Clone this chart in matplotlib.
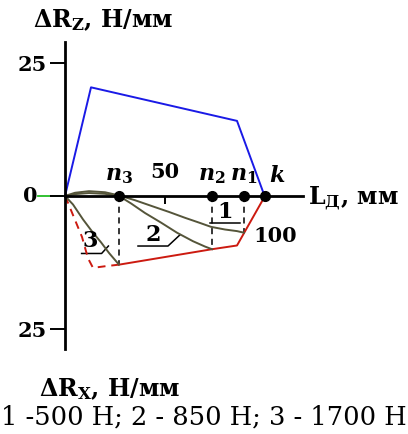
import matplotlib
matplotlib.use("Agg")
import matplotlib.pyplot as plt

plt.rcParams["font.family"] = ["DejaVu Serif"]
plt.rcParams["mathtext.fontset"] = "custom"
plt.rcParams["mathtext.rm"] = "DejaVu Serif:bold"
plt.rcParams["mathtext.bf"] = "DejaVu Serif:bold"
plt.rcParams["mathtext.it"] = "DejaVu Serif:bold:italic"

# ΔRz (upper half, blue)
L_rz = [0, 13, 86, 99]
rz = [0, 20.4, 14.1, 0.8]

# ΔRx envelope (lower half, red): solid part and dashed part
L_rx = [100, 86, 73.5, 27]
rx = [0, -9.3, -10.0, -12.9]
L_rx_dash = [27, 20, 14, 11.5, 8.5, 1.5, 0]
rx_dash = [-12.9, -13.2, -13.5, -11.7, -7.7, -1.3, 0]

# curves 1, 2, 3
L1 = [0, 5, 12, 20, 27, 35, 45, 52, 60, 67, 73, 80, 86, 89.5]
c1 = [0, 0.6, 0.9, 0.7, 0.1, -0.8, -2.1, -3.0, -4.1, -5.0, -5.8, -6.3, -6.6, -6.9]
L2 = [0, 5, 12, 20, 27, 33, 40, 48, 56, 64, 70, 73.5]
c2 = [0, 0.35, 0.55, 0.4, 0.0, -1.4, -3.2, -5.0, -6.9, -8.5, -9.5, -10.0]
L3 = [0, 4, 9, 14, 18, 22, 27]
c3 = [0, -1.6, -4.4, -6.9, -8.7, -10.7, -12.9]

# characteristic points on the L axis
pt_names = ["$n_3$", "$n_2$", "$n_1$", "$k$"]
pt_L = [27, 73.5, 89.5, 100]
pt_end = [-12.9, -10.0, -6.9, 0]

caption = "1 -500 Н; 2 - 850 Н; 3 - 1700 Н"

fig = plt.figure(figsize=(4.08, 4.34), dpi=100)
ax = fig.add_axes([0, 0, 1, 1])
ax.set_xlim(-32.5, 171.5)
ax.set_ylim(-44.7, 36.8)

for side in ("top", "right"):
    ax.spines[side].set_visible(False)
ax.spines["left"].set_position(("data", 0))
ax.spines["bottom"].set_position(("data", 0))
ax.spines["left"].set_bounds(-28.8, 28.9)
ax.spines["bottom"].set_bounds(0, 119)
ax.spines["left"].set_linewidth(2.0)
ax.spines["bottom"].set_linewidth(2.0)
ax.spines["left"].set_zorder(4)
ax.spines["bottom"].set_zorder(4)

ax.set_yticks([-25, 0, 25])
ax.set_yticklabels(["25", "", "25"], fontsize=15, fontweight="bold")
ax.tick_params(axis="y", direction="out", length=11, width=1.4, pad=2)
ax.set_xticks([50])
ax.tick_params(axis="x", direction="out", length=6, width=1.4, labelbottom=False)

# green zero mark left of the axis
ax.plot([-13.5, 0], [0, 0], color="#22bb22", lw=1.3, zorder=1)
ax.text(-13.5, 0, "0", ha="right", va="center", fontsize=15, fontweight="bold")

ax.plot(L_rz, rz, color="#1a1ae6", lw=1.4, zorder=3)
ax.plot(L_rx, rx, color="#cc1a10", lw=1.4, zorder=3)
ax.plot(L_rx_dash, rx_dash, color="#cc1a10", lw=1.4, ls=(0, (4, 3)), zorder=3)

olive = "#55553a"
for xs, ys in ((L1, c1), (L2, c2), (L3, c3)):
    ax.plot(xs, ys, color=olive, lw=1.4, zorder=3)

# dashed drops from the points to the curve ends
for x, y in zip(pt_L[:3], pt_end[:3]):
    ax.plot([x, x], [0, y], color="black", lw=1.1, ls=(0, (4, 3)), zorder=2)

ax.plot(pt_L, [0] * len(pt_L), "o", color="black", ms=7, zorder=5)
for name, x in zip(pt_names[:3], pt_L[:3]):
    ax.text(x, 1.9, name, ha="center", va="bottom", fontsize=16)
ax.text(106, 1.7, pt_names[3], ha="center", va="bottom", fontsize=16)

ax.text(50, 4.5, "50", ha="center", va="center", fontsize=15, fontweight="bold")
ax.text(105, -7.6, "100", ha="center", va="center", fontsize=15, fontweight="bold")

# curve labels with their leaders
ax.text(80, -3.0, "1", ha="center", va="center", fontsize=16, fontweight="bold")
ax.plot([72.5, 87.5], [-5.1, -5.1], color="black", lw=1.1)
ax.text(44.2, -7.4, "2", ha="center", va="center", fontsize=16, fontweight="bold")
ax.plot([36.5, 51.5, 57.5], [-9.4, -9.4, -7.3], color="black", lw=1.1)
ax.text(12.5, -8.4, "3", ha="center", va="center", fontsize=16, fontweight="bold")
ax.plot([8.3, 18.3, 21.7], [-10.8, -10.8, -9.4], color="black", lw=1.1)

ax.text(19, 33.0, "ΔR$_\\mathbf{Z}$, Н/мм", ha="center", va="center",
        fontsize=17, fontweight="bold")
ax.text(121.5, -0.6, "L$_\\mathbf{Д}$, мм", ha="left", va="center",
        fontsize=17, fontweight="bold")
ax.text(22.5, -36.2, "ΔR$_\\mathbf{X}$, Н/мм", ha="center", va="center",
        fontsize=17, fontweight="bold")
ax.text(-32, -41.6, caption, ha="left", va="center", fontsize=18.5)

fig.savefig("out.png", dpi=100)
